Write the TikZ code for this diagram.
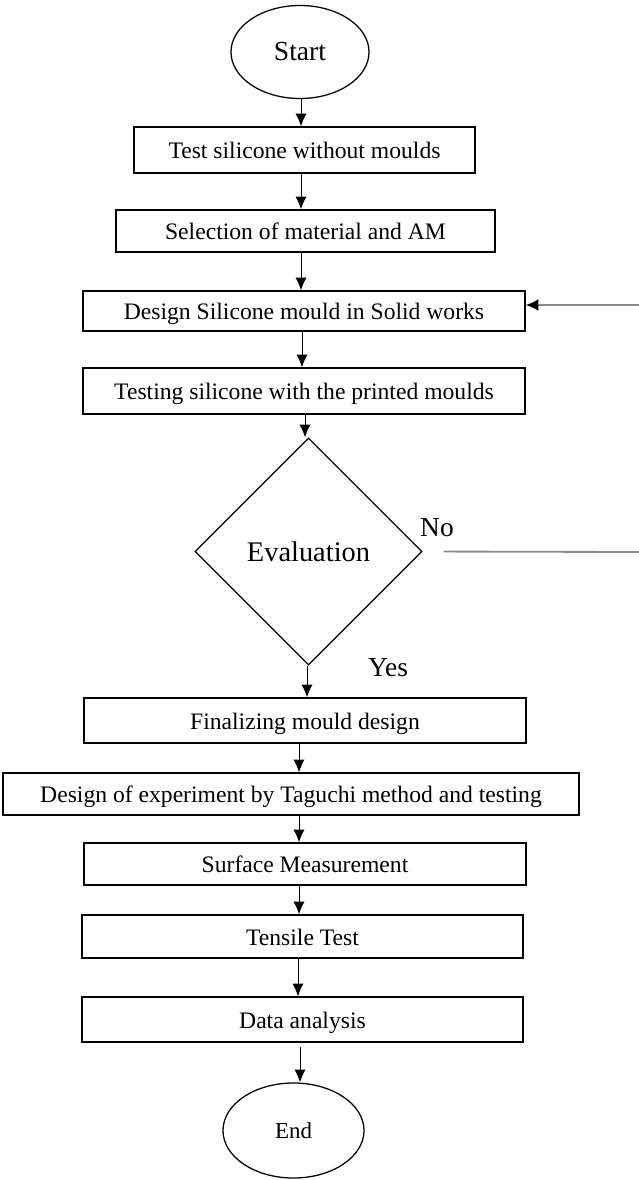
\documentclass[tikz,border=0pt]{standalone}
\usepackage{fontspec}
\setmainfont{Liberation Serif}
\usetikzlibrary{shapes,arrows.meta,positioning,calc}
\definecolor{cline}{HTML}{8a8a8a}

\begin{document}
\begin{tikzpicture}[x=0.025cm, y=-0.025cm,
      box/.style={draw, line width=0.9pt, inner sep=0pt, align=center, text height=0.5cm, text depth=0.06cm, font=\fontsize{16.8}{20}\selectfont},
      term/.style={draw, ellipse, line width=0.9pt, inner sep=0pt},
      arr/.style={-{Latex[length=0.32cm, width=0.28cm]}, line width=0.7pt},
      back/.style={cline, line width=1.3pt}
    ]
    \useasboundingbox (0,0) rectangle (639,1180);

    \node[term, minimum width=3.45cm, minimum height=2.325cm, font=\fontsize{19.6}{23}\selectfont] (start) at (300,52) {Start};
    \node[box, minimum width=8.525cm, minimum height=1.15cm] (b1) at (304.5,150) {Test silicone without moulds};
    \node[box, minimum width=9.475cm, minimum height=1.05cm] (b2) at (305.5,231) {Selection of material and AM};
    \node[box, minimum width=11.05cm, minimum height=1.0cm] (b3) at (304,311) {Design Silicone mould in Solid works};
    \node[box, minimum width=11.05cm, minimum height=1.15cm] (b4) at (304,391) {Testing silicone with the printed moulds};
    \node[draw, diamond, line width=0.9pt, inner sep=0pt, minimum width=5.675cm, minimum height=5.675cm,
          font=\fontsize{20.2}{24}\selectfont] (eval) at (308.5,551.5) {Evaluation};
    \node[box, minimum width=11.05cm, minimum height=1.125cm] (b5) at (305,720.5) {Finalizing mould design};
    \node[box, minimum width=14.4cm, minimum height=1.05cm] (b6) at (291,794) {Design of experiment by Taguchi method and testing};
    \node[box, minimum width=11.05cm, minimum height=1.05cm] (b7) at (305,864) {Surface Measurement};
    \node[box, minimum width=11.025cm, minimum height=1.075cm] (b8) at (302.5,936.5) {Tensile Test};
    \node[box, minimum width=11.025cm, minimum height=1.125cm] (b9) at (302.5,1019.5) {Data analysis};
    \node[term, minimum width=3.525cm, minimum height=2.375cm, font=\fontsize{16.3}{20}\selectfont] (end) at (293.5,1130.5) {End};

    \node[font=\fontsize{19.5}{23}\selectfont] (no) at (437,528) {No};
    \node[font=\fontsize{19.5}{23}\selectfont] (yes) at (388,668) {Yes};

    % main flow
    \draw[arr] (start.south -| 301,0) -- (b1.north -| 301,0);
    \draw[arr] (b1.south -| 301,0) -- (b2.north -| 301,0);
    \draw[arr] (b2.south -| 301,0) -- (b3.north -| 301,0);
    \draw[arr] (b3.south -| 302,0) -- (b4.north -| 302,0);
    \draw[arr] (b4.south -| 305,0) -- (eval.north -| 305,0);
    \draw[arr] (eval.south -| 307,0) -- (b5.north -| 307,0);
    \draw[arr] (b5.south -| 299,0) -- (b6.north -| 299,0);
    \draw[arr] (b6.south -| 299,0) -- (b7.north -| 299,0);
    \draw[arr] (b7.south -| 299,0) -- (b8.north -| 299,0);
    \draw[arr] (b8.south -| 298,0) -- (b9.north -| 298,0);
    \draw[arr, shorten <=0.1cm] (b9.south -| 300,0) -- (end.north -| 300,0);

    % back to design when No
    \coordinate (noA) at (639,552);
    \coordinate (noB) at (639,305);
    \draw[back, shorten <=0.525cm] (eval.east) -- (noA);
    \draw[back, -{Latex[black, length=0.32cm, width=0.3cm]}] (noB) -- (noB -| b3.east);
  \end{tikzpicture}
\end{document}
